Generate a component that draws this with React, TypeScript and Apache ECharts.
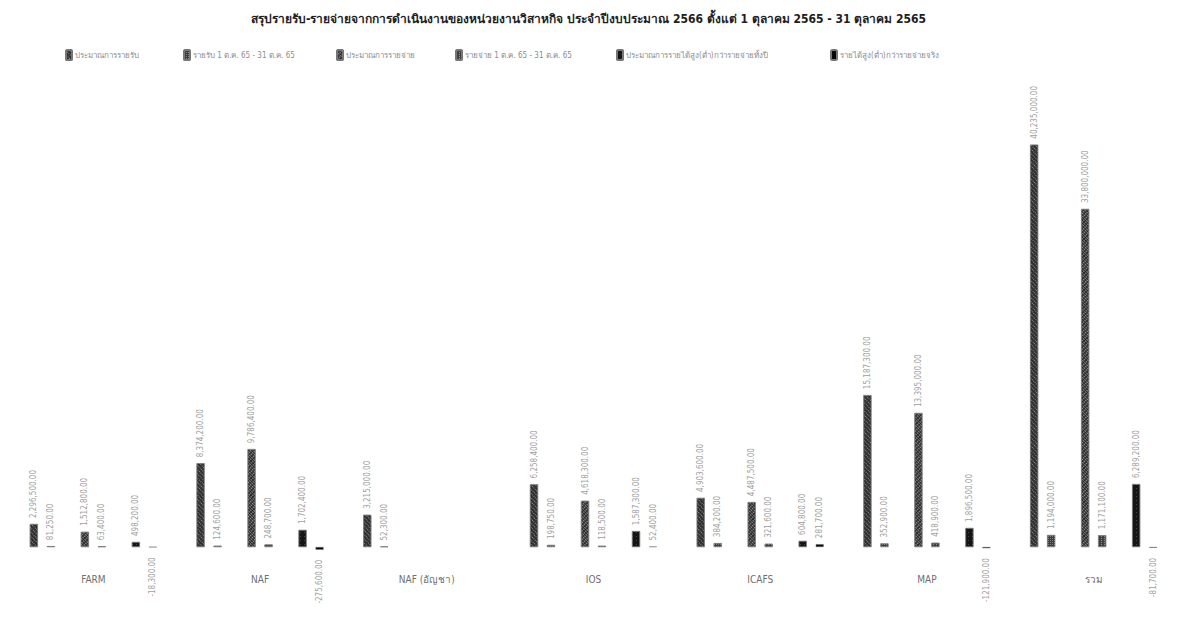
import React, { useEffect, useRef } from "react";
import * as echarts from "echarts";

const titleText =
  "สรุปรายรับ-รายจ่ายจากการดำเนินงานของหน่วยงานวิสาหกิจ ประจำปีงบประมาณ 2566 ตั้งแต่ 1 ตุลาคม 2565 - 31 ตุลาคม 2565";

const categories = ["FARM", "NAF", "NAF (อัญชา)", "IOS", "ICAFS", "MAP", "รวม"];

const seriesNames = [
  "ประมาณการรายรับ",
  "รายรับ 1 ต.ค. 65 - 31 ต.ค. 65",
  "ประมาณการรายจ่าย",
  "รายจ่าย 1 ต.ค. 65 - 31 ต.ค. 65",
  "ประมาณการรายได้สูง(ต่ำ)กว่ารายจ่ายทั้งปี",
  "รายได้สูง(ต่ำ)กว่ารายจ่ายจริง",
];

const estIncome = [2296500, 8374200, 3215000, 6258400, 4903600, 15187300, 40235000];
const actIncome = [81250, 124600, 52300, 198750, 384200, 352900, 1194000];
const estExpense = [1512800, 9786400, null, 4618300, 4487500, 13395000, 33800000];
const actExpense = [63400, 248700, null, 118500, 321600, 418900, 1171100];
const estBalance = [498200, 1702400, null, 1587300, 604800, 1896500, 6289200];
const actBalance = [-18300, -275600, null, 52400, 281700, -121900, -81700];

const seriesValues = [estIncome, actIncome, estExpense, actExpense, estBalance, actBalance];
// slot layout in each category: two bars, empty slot, two bars, empty slot, two bars
const slotOrder = [0, 1, -1, 2, 3, -1, 4, 5];

const legendLeft = [60, 178, 331, 450, 611, 825];

const barColors = ["#303030", "#3c3c3c", "#2a2a2a", "#404040", "#151515", "#050505"];

const fmt = new Intl.NumberFormat("en-US", { minimumFractionDigits: 2, maximumFractionDigits: 2 });

export default function App() {
  const ref = useRef<HTMLDivElement>(null);

  useEffect(() => {
    if (!ref.current) return;
    const chart = echarts.init(ref.current, undefined, { renderer: "svg" });

    const decals = [
      { symbol: "rect", symbolSize: 1, color: "rgba(255,255,255,0.45)", dashArrayX: [1, 1], dashArrayY: [1, 2], rotation: Math.PI / 4 },
      { symbol: "rect", symbolSize: 1, color: "rgba(255,255,255,0.35)", dashArrayX: [1, 1], dashArrayY: [1, 1], rotation: 0 },
      { symbol: "rect", symbolSize: 1, color: "rgba(255,255,255,0.45)", dashArrayX: [1, 1], dashArrayY: [2, 1], rotation: -Math.PI / 4 },
      { symbol: "rect", symbolSize: 1, color: "rgba(255,255,255,0.4)", dashArrayX: [1, 2], dashArrayY: [1, 1], rotation: 0 },
      { symbol: "rect", symbolSize: 1, color: "rgba(255,255,255,0.2)", dashArrayX: [1, 3], dashArrayY: [1, 3], rotation: 0 },
      null,
    ];

    const series: any[] = slotOrder.map((si, idx) => {
      const common = {
        type: "bar",
        barWidth: 8,
        barGap: "112.5%",
        clip: false,
      };
      if (si < 0) {
        return { ...common, name: "gap" + idx, data: categories.map(() => null), silent: true };
      }
      const vals = seriesValues[si];
      return {
        ...common,
        name: seriesNames[si],
        itemStyle: {
          color: barColors[si],
          borderColor: "#777",
          borderWidth: 0.5,
          decal: decals[si] || undefined,
        },
        label: {
          show: true,
          position: "top",
          rotate: 90,
          align: "left",
          verticalAlign: "middle",
          distance: 6,
          fontSize: 8,
          color: "#9f9f9f",
          formatter: (p: any) => (p.value == null ? "" : fmt.format(p.value)),
        },
        data: vals.map((v) =>
          v == null
            ? null
            : v < 0
            ? {
                value: v,
                label: { position: "bottom", align: "right", verticalAlign: "middle", distance: 10 },
              }
            : { value: v }
        ),
      };
    });

    const legends = seriesNames.map((n, i) => ({
      data: [n],
      left: legendLeft[i],
      top: 44,
      itemWidth: 6,
      itemHeight: 10,
      itemGap: 0,
      selectedMode: false,
      textStyle: { fontSize: 8, color: "#8c8c8c", padding: [0, 0, 0, -2] },
    }));

    chart.setOption({
      animation: false,
      backgroundColor: "#ffffff",
      textStyle: { fontFamily: "DejaVu Sans Condensed, Noto Sans, sans-serif" },
      title: {
        text: titleText,
        left: "center",
        top: 8,
        textStyle: { fontSize: 12, fontWeight: "bold", color: "#1e1e1e" },
      },
      legend: legends,
      grid: { left: 10, right: -16, top: 57, bottom: 79, containLabel: false },
      xAxis: {
        type: "category",
        data: categories,
        axisLine: { show: false },
        axisTick: { show: false },
        axisLabel: { margin: 27, fontSize: 10, color: "#6e6e6e", interval: 0 },
        splitLine: { show: false },
      },
      yAxis: {
        type: "value",
        min: 0,
        max: 49000000,
        show: false,
        splitLine: { show: false },
      },
      series,
    });

    return () => chart.dispose();
  }, []);

  return (
    <div
      ref={ref}
      style={{ position: "absolute", left: 0, top: 0, width: 1177, height: 626 }}
    />
  );
}
